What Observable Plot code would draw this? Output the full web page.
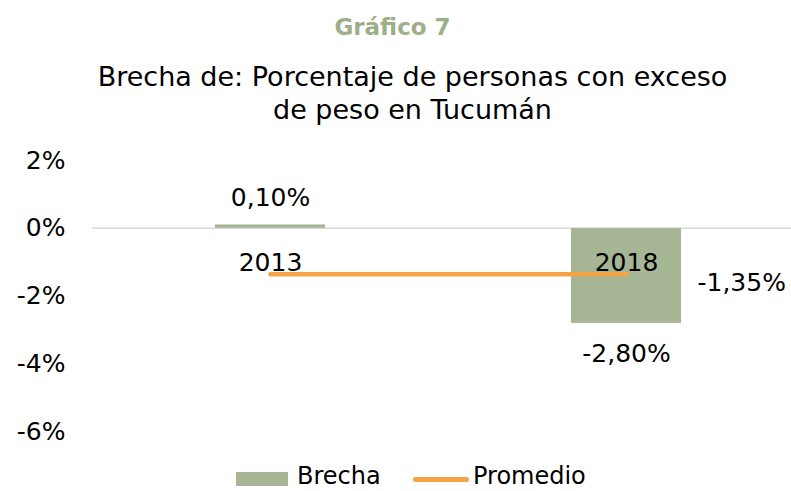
<!DOCTYPE html>
<html>
<head>
<meta charset="utf-8">
<script src="https://cdn.jsdelivr.net/npm/d3@7"></script>
<script src="https://cdn.jsdelivr.net/npm/@observablehq/plot@0.6"></script>
<style>
  html, body { margin: 0; padding: 0; background: #fff; }
  body { width: 791px; height: 491px; position: relative; overflow: hidden; font-family: Verdana, "DejaVu Sans", sans-serif; color: #000; }
  #title { position: absolute; left: 0; width: 785px; top: 13px; text-align: center; font-weight: bold; font-size: 23px; line-height: 28px; color: #9caf88; }
  #subtitle { position: absolute; left: 34px; width: 757px; top: 60px; text-align: center; font-size: 27px; line-height: 33px; }
  #chart { position: absolute; left: 0; top: 140px; }
  #legend { position: absolute; left: 0; top: 464px; width: 791px; height: 24px; font-size: 24px; }
  .sw { position: absolute; }
  .lt { position: absolute; top: 0; line-height: 24px; }
</style>
</head>
<body>
<div id="title">Gráfico 7</div>
<div id="subtitle">Brecha de: Porcentaje de personas con exceso<br>de peso en Tucumán</div>
<div id="chart"></div>
<div id="legend">
  <div class="sw" style="left:236px; top:8px; width:52px; height:14px; background:#a6b593;"></div>
  <div class="lt" style="left:297px;">Brecha</div>
  <div class="sw" style="left:413px; top:13px; width:56px; height:5px; border-radius:3px; background:#f4a347;"></div>
  <div class="lt" style="left:473px;">Promedio</div>
</div>
<script>
const years = ["2013", "2018"];
const brecha = [0.10, -2.80];
const promedio = [-1.35, -1.35];
const yTicks = [2, 0, -2, -4, -6];

const fmt = v => v.toFixed(2).replace(".", ",") + "%";
const rows = years.map((y, i) => ({year: y, brecha: brecha[i], promedio: promedio[i]}));
const pos = rows.filter(d => d.brecha >= 0);
const neg = rows.filter(d => d.brecha < 0);
const last = rows[rows.length - 1];

const green = "#a6b593";
const orange = "#f4a347";
const fs = 25;

const chart = Plot.plot({
  width: 791,
  height: 315,
  marginLeft: 92,
  marginRight: 0,
  marginTop: 20,
  marginBottom: 24,
  style: {fontFamily: "Verdana, 'DejaVu Sans', sans-serif", fontSize: fs + "px", background: "transparent", overflow: "visible"},
  x: {type: "band", domain: years, range: [92, 804], paddingInner: 0.69, paddingOuter: 0.345, axis: null},
  y: {domain: [-6, 2], range: [291.4, 20], axis: null},
  marks: [
    Plot.axisY({ticks: yTicks, tickSize: 0, tickPadding: 27, tickFormat: d => d + "%", fontSize: fs, fill: "#000"}),
    Plot.ruleY([0], {stroke: "#d9d9d9", strokeWidth: 1.5}),
    Plot.barY(rows, {x: "year", y: "brecha", fill: green}),
    Plot.text(rows, {x: "year", y: 0, text: "year", dy: 35, fontSize: fs, fill: "#000"}),
    Plot.line(rows, {x: "year", y: "promedio", stroke: orange, strokeWidth: 4.5, strokeLinecap: "round"}),
    Plot.text(pos, {x: "year", y: "brecha", text: d => fmt(d.brecha), dy: -27, fontSize: fs, fill: "#000"}),
    Plot.text(neg, {x: "year", y: "brecha", text: d => fmt(d.brecha), dy: 31, fontSize: fs, fill: "#000"}),
    Plot.text([last], {x: "year", y: "promedio", text: d => fmt(d.promedio), textAnchor: "start", dx: 71, dy: 9, fontSize: fs, fill: "#000"})
  ]
});
document.getElementById("chart").appendChild(chart);
</script>
</body>
</html>
